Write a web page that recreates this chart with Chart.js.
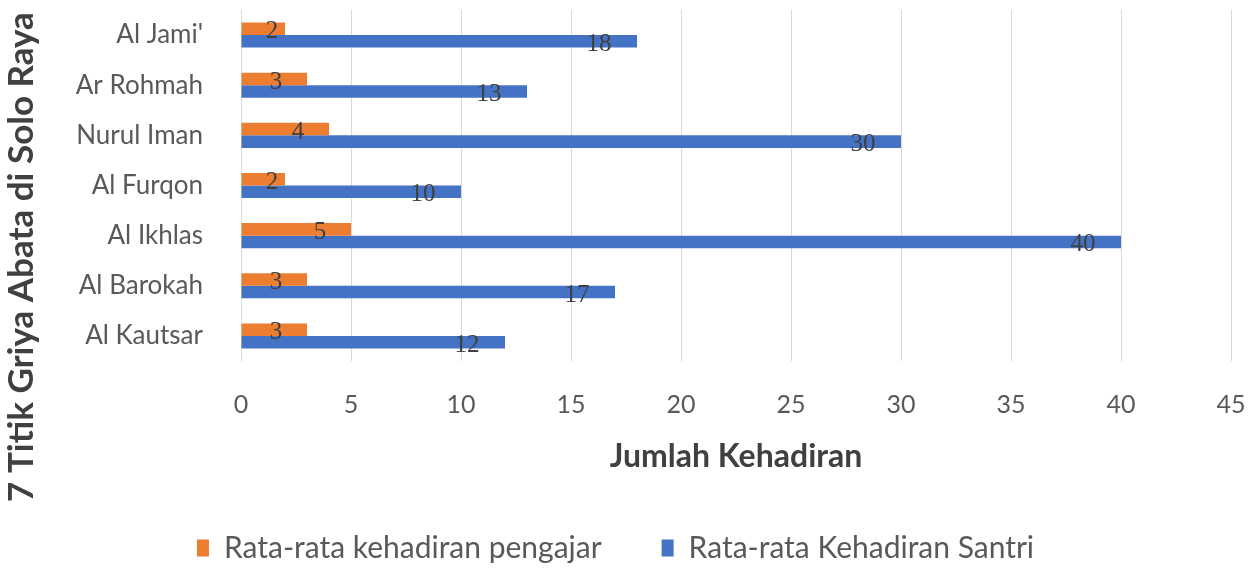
<!DOCTYPE html>
<html>
<head>
<meta charset="utf-8">
<script src="https://cdn.jsdelivr.net/npm/chart.js@4/dist/chart.umd.min.js"></script>
<style>
  html, body { margin: 0; padding: 0; background: #fff; }
  #wrap { width: 1251px; height: 573px; }
</style>
</head>
<body>
<div id="wrap"><canvas id="bar"></canvas></div>
<script>
var categories = ["Al Jami'", "Ar Rohmah", "Nurul Iman", "Al Furqon", "Al Ikhlas", "Al Barokah", "Al Kautsar"];
var pengajar = [2, 3, 4, 2, 5, 3, 3];
var santri = [18, 13, 30, 10, 40, 17, 12];
var xTicks = [0, 5, 10, 15, 20, 25, 30, 35, 40, 45];

var font = "Lato, 'Open Sans', sans-serif";

// value labels, drawn near the end of each bar like the original
var barLabels = {
	id: 'barLabels',
	afterDatasetsDraw: function(chart) {
		var ctx = chart.ctx;
		var x0 = chart.scales.x.getPixelForValue(0);
		ctx.save();
		ctx.font = "25px 'Liberation Serif', serif";
		ctx.fillStyle = '#404040';
		ctx.textAlign = 'center';
		ctx.textBaseline = 'middle';
		chart.data.datasets.forEach(function(ds, i) {
			var meta = chart.getDatasetMeta(i);
			meta.data.forEach(function(bar, j) {
				var cx = Math.max(bar.x - (i === 0 ? 31 : 38), x0 + 31);
				ctx.fillText(ds.data[j], cx, bar.y + 3);
			});
		});
		ctx.restore();
	}
};

// y title centred on the whole left side, not just the plot
var yTitle = {
	id: 'yTitle',
	afterDraw: function(chart) {
		var ctx = chart.ctx;
		ctx.save();
		ctx.translate(22, 257);
		ctx.rotate(-Math.PI / 2);
		ctx.font = "bold 35px " + font;
		ctx.fillStyle = '#404040';
		ctx.textAlign = 'center';
		ctx.textBaseline = 'middle';
		ctx.fillText('7 Titik Griya Abata di Solo Raya', 0, 0);
		ctx.restore();
	}
};

var config = {
	type: 'bar',
	data: {
		labels: categories,
		datasets: [{
			label: 'Rata-rata kehadiran pengajar',
			backgroundColor: '#ED7D31',
			data: pengajar
		}, {
			label: 'Rata-rata Kehadiran Santri',
			backgroundColor: '#4472C4',
			data: santri
		}]
	},
	options: {
		indexAxis: 'y',
		responsive: true,
		maintainAspectRatio: false,
		animation: false,
		categoryPercentage: 0.5,
		barPercentage: 1.0,
		layout: { padding: { top: 10, right: 20, left: 0, bottom: 0 } },
		scales: {
			x: {
				min: 0,
				max: 45,
				afterBuildTicks: function(scale) {
					scale.ticks = xTicks.map(function(v) { return { value: v }; });
				},
				afterFit: function(scale) {
					scale.height = 112;
					scale.paddingLeft = 0;
					scale.paddingRight = 0;
				},
				grid: { color: '#d9d9d9', lineWidth: 1, drawTicks: false },
				border: { display: false },
				ticks: { color: '#595959', font: { family: font, size: 25 }, padding: 29 },
				title: {
					display: true,
					text: 'Jumlah Kehadiran',
					color: '#404040',
					font: { family: font, size: 32, weight: 'bold', lineHeight: 1 },
					padding: { top: 0, bottom: 0 }
				}
			},
			y: {
				afterFit: function(scale) {
					scale.width = 241;
					scale.paddingTop = 0;
					scale.paddingBottom = 0;
				},
				grid: { display: false },
				border: { display: false },
				ticks: { color: '#595959', font: { family: font, size: 26 }, padding: 30 }
			}
		},
		plugins: {
			legend: {
				position: 'bottom',
				labels: {
					color: '#595959',
					font: { family: font, size: 30 },
					boxWidth: 12,
					boxHeight: 17,
					padding: 60
				}
			},
			tooltip: { enabled: false }
		}
	},
	plugins: [barLabels, yTitle]
};

window.onload = function() {
	window.myBar = new Chart(document.getElementById('bar'), config);
};
</script>
</body>
</html>
